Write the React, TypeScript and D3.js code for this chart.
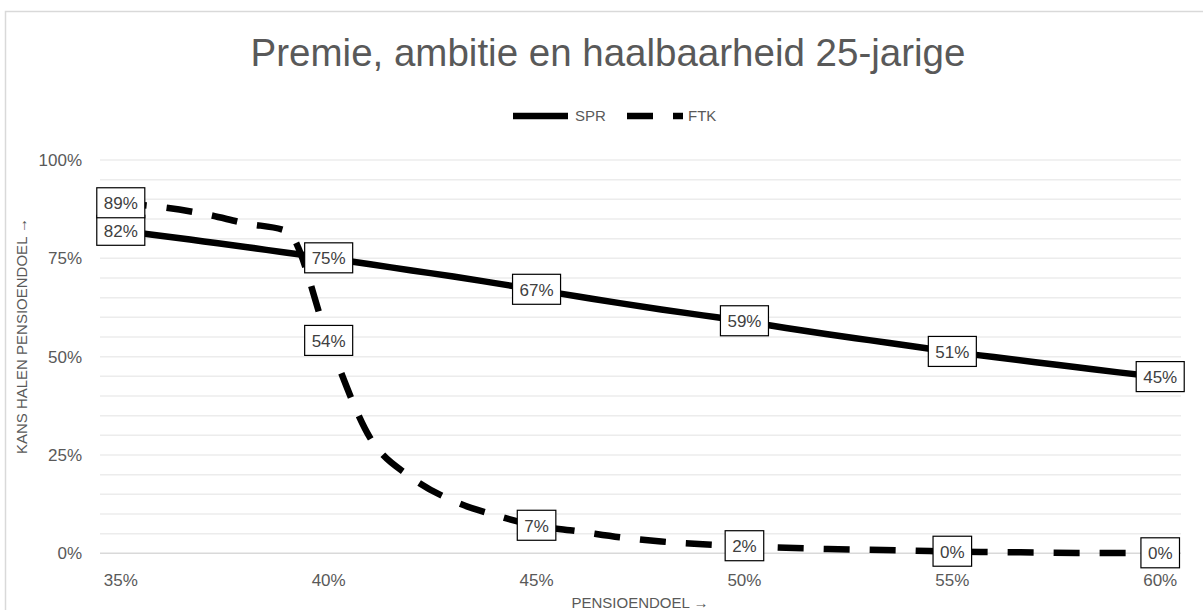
import React from "react";
import * as d3 from "d3";

const pensioendoel = [35, 36, 37, 38, 39, 40, 41, 42, 43, 44, 45, 46, 47, 48, 49, 50, 51, 52, 53, 54, 55, 56, 57, 58, 59, 60];
const spr = [82.0, 80.7, 79.3, 77.9, 76.4, 75.0, 73.5, 71.9, 70.4, 68.7, 67.0, 65.3, 63.6, 62.0, 60.5, 59.0, 57.3, 55.7, 54.2, 52.7, 51.2, 49.9, 48.6, 47.3, 46.0, 44.8];
const ftk = [89.0, 88.0, 86.3, 83.9, 81.9, 54.0, 29.3, 19.2, 13.3, 9.7, 7.0, 5.6, 4.1, 3.0, 2.3, 1.8, 1.4, 1.1, 0.9, 0.7, 0.4, 0.3, 0.2, 0.1, 0.1, 0.0];
const labelAt = [35, 40, 45, 50, 55, 60];
const xTicks = [35, 40, 45, 50, 55, 60];
const yTicks = [0, 25, 50, 75, 100];
const yGrid = d3.range(0, 101, 5);
const seriesNames = ["SPR", "FTK"];
const title = "Premie, ambitie en haalbaarheid 25-jarige";
const xTitle = "PENSIOENDOEL →";
const yTitle = "KANS HALEN PENSIOENDOEL →";

const W = 1203;
const H = 610;
const FONT = "'Liberation Sans', Arial, sans-serif";

export default function App() {
  const x = d3.scaleLinear().domain([34.5, 60.5]).range([100, 1181]);
  const y = d3.scaleLinear().domain([0, 100]).range([553.3, 160]);
  const line = d3
    .line<number>()
    .x((_, i) => x(pensioendoel[i]))
    .y((d) => y(d))
    .curve(d3.curveMonotoneX);

  const labelW = (t: string) => (t.replace("%", "").length * 0.556 + 0.889) * 17 + 14;

  const labels = (vals: number[], key: string) =>
    labelAt.map((p) => {
      const i = pensioendoel.indexOf(p);
      const v = vals[i];
      const t = `${Math.round(v)}%`;
      const w = labelW(t);
      const cx = x(p);
      const cy = y(v);
      return (
        <g key={key + p}>
          <rect x={cx - w / 2} y={cy - 15.5} width={w} height={30} fill="#fff" stroke="#000" strokeWidth={1.2} />
          <text x={cx} y={cy + 6} textAnchor="middle" fontSize={17} fill="#404040" fontFamily={FONT}>
            {t}
          </text>
        </g>
      );
    });

  return (
    <svg width={W} height={H} style={{ position: "absolute", left: 0, top: 0 }} fontFamily={FONT}>
      <rect x={0} y={0} width={W} height={H} fill="#fff" />
      <rect x={5.5} y={11.5} width={W + 20} height={H + 20} fill="none" stroke="#d9d9d9" strokeWidth={1.5} />
      <text x={608} y={66} textAnchor="middle" fontSize={38.5} fill="#595959">
        {title}
      </text>
      {/* legend */}
      <line x1={513} x2={568} y1={116} y2={116} stroke="#000" strokeWidth={6.5} />
      <text x={575} y={121} fontSize={15} fill="#595959">{seriesNames[0]}</text>
      <line x1={627} x2={683} y1={116} y2={116} stroke="#000" strokeWidth={6.5} strokeDasharray="26 20" />
      <text x={688} y={121} fontSize={15} fill="#595959">{seriesNames[1]}</text>
      {/* grid */}
      {yGrid.map((g) => (
        <line key={g} x1={100} x2={1181} y1={y(g)} y2={y(g)} stroke={g === 0 ? "#d9d9d9" : "#ececec"} strokeWidth={1.5} />
      ))}
      {yTicks.map((t) => (
        <text key={t} x={82} y={y(t) + 6} textAnchor="end" fontSize={17} fill="#595959">
          {t}%
        </text>
      ))}
      {xTicks.map((t) => (
        <text key={t} x={x(t)} y={586} textAnchor="middle" fontSize={17} fill="#595959">
          {t}%
        </text>
      ))}
      <text x={640} y={608} textAnchor="middle" fontSize={15} fill="#595959">{xTitle}</text>
      <text transform="translate(27,336) rotate(-90)" textAnchor="middle" fontSize={15} fill="#595959">
        {yTitle}
      </text>
      <path d={line(spr) || ""} fill="none" stroke="#000" strokeWidth={6.5} />
      <path d={line(ftk) || ""} fill="none" stroke="#000" strokeWidth={6.5} strokeDasharray="26 20" />
      {labels(spr, "s")}
      {labels(ftk, "f")}
    </svg>
  );
}
